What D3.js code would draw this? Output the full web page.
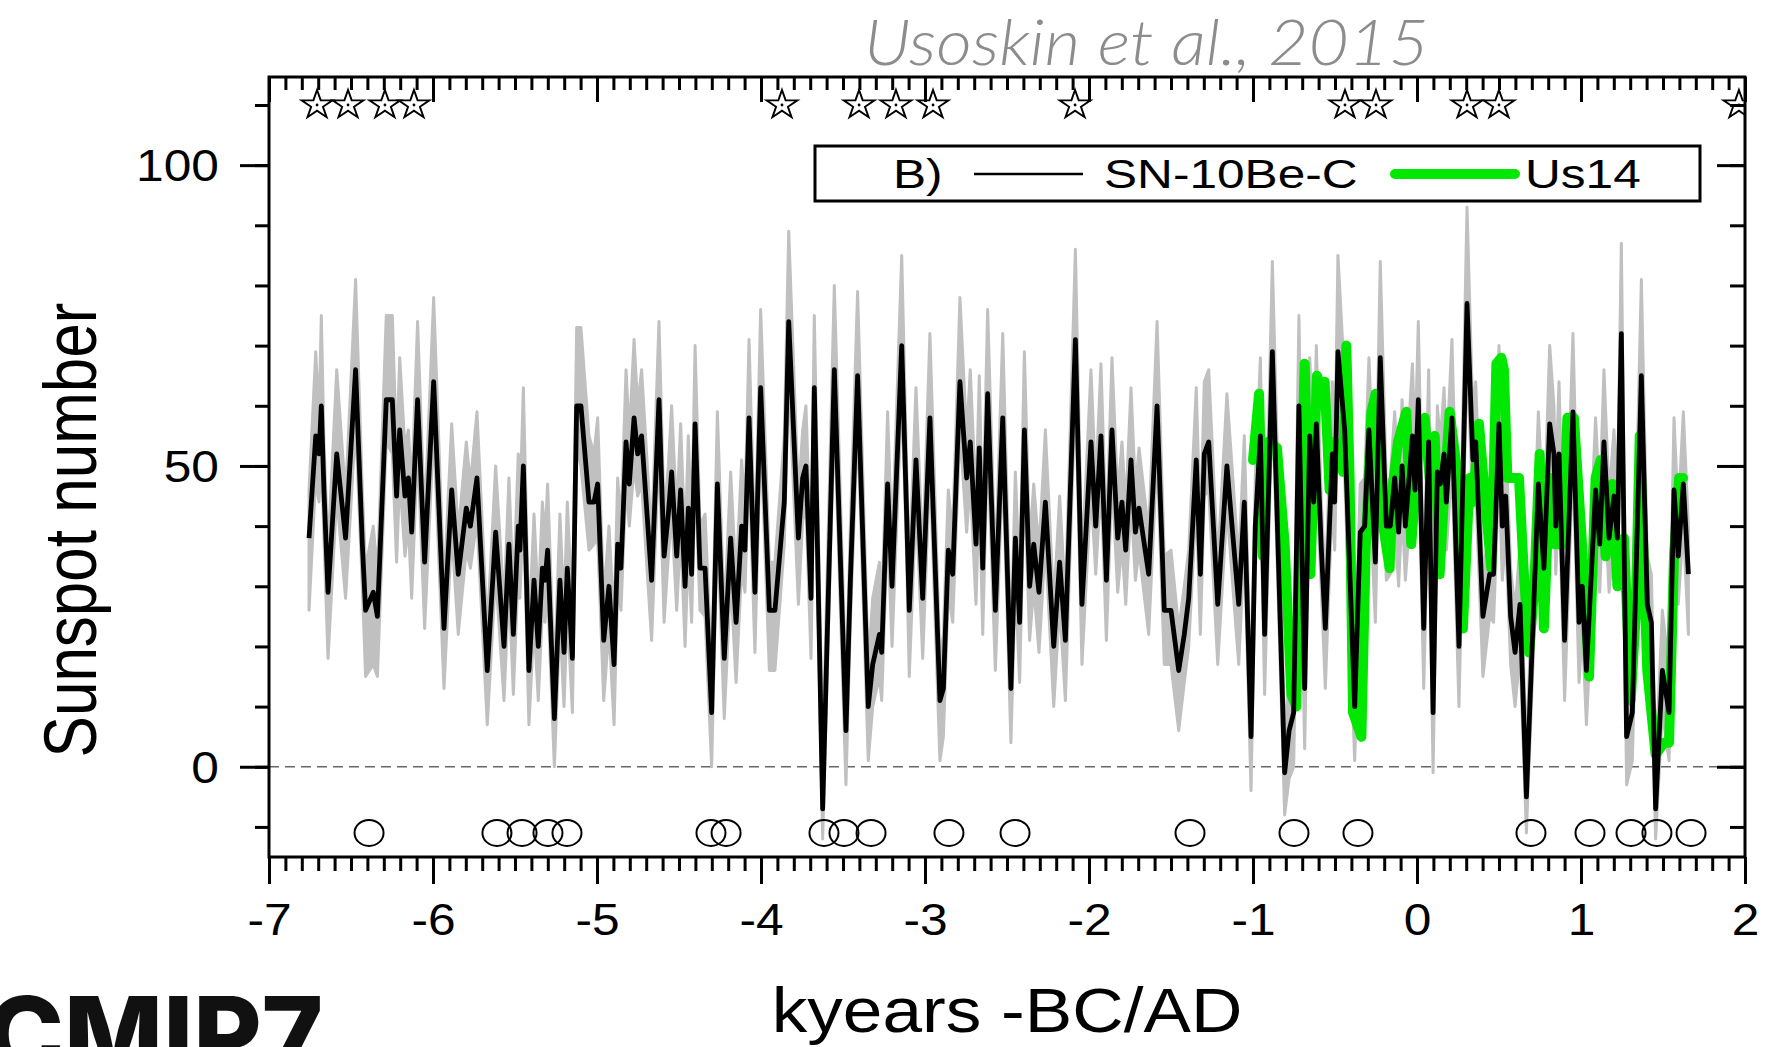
<!DOCTYPE html>
<html>
  <head>
    <meta charset="utf-8">
    <title>Sunspot number, SN-10Be-C and Us14</title>
    <script src="https://d3js.org/d3.v7.min.js"></script>
    <style>
      body { margin: 0; background: #fff; }
      svg { display: block; font-family: "Liberation Sans", Arial, sans-serif; }
    </style>
  </head>
  <body>
    <svg id="chart" width="1773" height="1047"></svg>
    <script>
      // SN-10Be-C reconstruction: kyears, sunspot number, grey band low / high
      const snYears = [-6.756,-6.715,-6.695,-6.681,-6.665,-6.640,-6.587,-6.533,-6.472,-6.431,-6.411,-6.364,-6.339,-6.285,-6.248,-6.222,-6.203,-6.171,-6.150,-6.130,-6.094,-6.051,-5.996,-5.933,-5.886,-5.846,-5.797,-5.772,-5.732,-5.669,-5.618,-5.567,-5.537,-5.510,-5.480,
        -5.470,-5.449,-5.415,-5.384,-5.358,-5.333,-5.317,-5.301,-5.260,-5.226,-5.201,-5.181,-5.150,-5.124,-5.098,-5.049,-5.018,-4.996,-4.959,-4.927,-4.896,-4.874,-4.854,-4.823,-4.803,-4.774,-4.752,-4.728,-4.667,-4.622,-4.591,-4.565,-4.545,-4.514,-4.490,-4.463,-4.443,-4.423,-4.402,-4.372,-4.341,-4.301,-4.266,-4.224,-4.185,-4.152,-4.118,-4.098,-4.073,-4.037,-4.002,
        -3.949,-3.915,-3.858,-3.831,-3.772,-3.746,-3.726,-3.695,-3.675,-3.624,-3.553,-3.482,-3.455,-3.411,-3.346,-3.319,-3.278,-3.264,-3.228,-3.201,-3.142,-3.112,-3.096,-3.055,-3.014,-2.970,-2.909,-2.888,-2.858,-2.831,-2.787,-2.746,-2.724,-2.689,-2.669,-2.648,-2.618,-2.571,-2.526,-2.476,
        -2.449,-2.423,-2.394,-2.362,-2.337,-2.305,-2.266,-2.215,-2.179,-2.144,-2.083,-2.043,-1.988,-1.959,-1.927,-1.894,-1.860,-1.825,-1.799,-1.776,-1.744,-1.717,-1.695,-1.636,-1.585,-1.541,-1.500,-1.453,-1.419,-1.392,-1.346,-1.321,-1.297,-1.270,-1.215,-1.159,-1.087,-1.053,-1.012,
        -0.986,-0.955,-0.929,-0.882,-0.807,-0.780,-0.752,-0.720,-0.685,-0.654,-0.630,-0.614,-0.583,-0.559,-0.516,-0.502,-0.482,-0.441,-0.380,-0.346,-0.319,-0.293,-0.254,-0.224,-0.187,-0.163,-0.136,-0.112,-0.091,-0.071,-0.028,-0.012,0.008,0.041,0.071,0.098,0.124,0.142,0.165,0.179,0.213,0.256,0.305,0.341,0.358,0.402,0.443,0.467,0.500,
        0.520,0.541,0.571,0.598,0.628,0.667,0.740,0.774,0.809,0.835,0.846,0.866,0.900,0.951,0.988,1.008,1.033,1.089,1.114,1.140,1.171,1.201,1.222,1.246,1.278,1.313,1.368,1.404,1.429,1.455,1.496,1.537,1.567,1.593,1.624,1.655];
      const snValues = [38,55,52,60,46,29,52,38,66,37,26,29,25,61,61,45,56,45,48,39,61,34,64,23,46,32,43,40,48,16,39,20,37,22,40,
        36,50,16,31,20,33,31,36,8,31,19,33,18,60,60,44,44,47,21,30,17,37,33,54,47,58,52,55,31,61,35,42,49,35,46,30,43,32,57,33,33,9,47,18,38,24,40,36,58,29,63,
        26,26,44,74,38,48,50,28,63,-7,66,6,31,65,10,17,22,19,47,30,70,42,26,51,28,58,11,13,36,32,64,48,54,37,53,33,62,26,58,13,
        38,24,56,30,37,29,44,20,34,21,71,27,54,40,55,31,56,38,44,36,51,39,43,32,60,26,26,16,22,28,51,32,52,54,27,50,27,44,5,
        40,55,22,69,-1,6,9,60,13,55,44,57,36,23,52,44,69,56,10,39,40,56,34,68,40,40,48,39,50,40,55,46,61,23,54,9,49,47,52,44,58,20,77,51,54,25,32,32,57,
        40,45,25,19,27,-5,47,33,57,52,40,52,21,59,24,30,16,46,37,54,38,45,38,72,5,9,65,27,24,-7,16,9,46,35,47,32];
      const snLow = [26,48,44,52,38,18,45,28,57,30,15,17,15,54,52,34,48,35,40,28,53,23,56,13,39,22,36,33,41,7,32,11,30,12,33,
        28,43,7,24,11,26,24,29,0,24,10,26,9,53,50,36,37,38,11,23,7,30,26,47,40,50,45,47,21,53,24,35,42,26,39,20,36,24,49,26,25,0,40,8,31,14,33,29,50,19,55,
        16,16,37,65,27,41,43,18,55,-12,58,-3,24,57,1,10,15,11,40,20,62,35,15,44,18,50,1,5,29,24,56,39,47,27,46,22,54,16,50,4,
        31,14,48,21,30,19,37,10,27,11,63,17,46,32,47,21,48,29,37,27,44,31,36,22,52,17,17,6,14,20,44,22,45,46,17,43,17,37,-4,
        33,47,12,61,-8,-2,0,52,3,47,36,49,29,13,45,36,61,48,1,32,33,48,24,60,31,32,41,30,43,31,47,38,53,13,47,-1,42,40,45,36,50,10,68,43,46,15,25,24,49,
        31,38,17,10,19,-11,40,24,49,45,32,45,11,51,14,23,7,39,29,47,29,38,30,64,-3,1,57,19,16,-12,9,1,39,27,40,22];
      const snHigh = [46,69,58,75,54,36,66,45,81,46,33,40,32,75,75,52,68,53,56,46,74,41,78,30,57,39,54,47,59,23,50,27,48,29,52,
        43,63,23,42,27,44,38,47,15,42,26,44,25,73,73,55,52,58,28,40,24,48,40,66,55,71,60,66,38,74,42,50,60,42,57,37,55,39,70,40,42,16,59,25,49,31,51,43,71,36,76,
        34,34,55,89,45,56,60,35,75,2,80,13,40,79,17,28,34,26,59,37,85,50,33,63,35,72,18,22,46,39,78,55,66,44,65,40,76,33,72,20,
        49,31,69,37,47,36,56,27,45,28,86,34,66,47,67,38,68,45,54,43,63,46,53,39,74,35,36,23,30,36,63,39,64,66,34,62,34,55,12,
        48,68,29,84,6,14,17,75,20,68,51,70,44,30,64,51,85,64,17,47,48,68,41,84,47,48,59,46,61,47,67,53,74,30,66,16,60,54,63,51,71,27,93,58,64,32,40,40,70,
        47,55,33,26,37,2,59,40,70,60,47,64,28,72,31,38,23,58,44,66,45,56,45,87,12,17,81,35,32,0,26,16,58,42,59,40];

      // Us14 series
      const usYears = [-1.000,-0.963,-0.939,-0.909,-0.854,-0.807,-0.766,-0.736,-0.685,-0.650,-0.610,-0.583,-0.563,-0.533,-0.502,-0.451,-0.431,-0.411,-0.390,-0.339,-0.313,-0.278,-0.252,-0.217,-0.167,-0.146,-0.116,-0.065,-0.035,0.006,0.047,0.077,0.108,0.138,0.169,0.199,0.250,0.280,0.321,0.341,0.378,0.423,0.453,0.484,0.514,0.530,0.551,0.581,0.622,0.652,0.683,0.713,0.748,0.774,0.809,0.841,0.886,0.917,0.957,1.004,1.049,1.089,1.120,1.150,1.191,1.222,1.262,1.303,1.333,1.358,1.404,1.455,1.506,1.537,1.567,1.598,1.622];
      const usValues = [51,62,35,54,53,37,12,10,67,32,65,63,64,46,54,49,70,48,9,5,36,59,62,42,33,47,54,59,37,52,58,48,55,32,47,59,48,23,48,44,57,42,33,67,68,66,48,48,48,32,19,29,52,23,48,37,37,58,58,38,15,48,51,35,47,30,38,11,25,55,16,2,4,4,35,48,48];

      // grand maxima (stars) and grand minima (circles)
      const maximaYears = [-6.707,-6.518,-6.293,-6.116,-3.872,-3.402,-3.177,-2.951,-2.085,-0.439,-0.250,0.305,0.500,1.963];
      const minimaYears = [-6.390,-5.610,-5.457,-5.299,-5.183,-4.305,-4.213,-3.616,-3.494,-3.329,-2.854,-2.451,-1.384,-0.750,-0.360,0.695,1.055,1.305,1.463,1.671];
      const maximaLevel = 110;
      const minimaLevel = -11;

      // ticks
      const xTickLabels = [-7, -6, -5, -4, -3, -2, -1, 0, 1, 2];
      const yTickLabels = [0, 50, 100];
      const xMinorTicks = d3.range(-70, 21).map(function(d) { return d / 10; });
      const yMinorTicks = d3.range(-10, 111, 10);

      const margin = { top: 77, right: 28, bottom: 190, left: 269 };
      const width = 1773, height = 1047;
      const stretch = 1.13;

      const svg = d3.select("#chart");
      const x = d3.scaleLinear().domain([-7, 2]).range([margin.left, width - margin.right]);
      const y = d3.scaleLinear().domain([-15, 114.65]).range([height - margin.bottom, margin.top]);
      const x0 = x.range()[0], x1 = x.range()[1], y0 = y.range()[0], y1 = y.range()[1];

      svg.append("defs").append("clipPath").attr("id", "plotClip")
        .append("rect").attr("x", x0).attr("y", y1).attr("width", x1 - x0).attr("height", y0 - y1);

      const plot = svg.append("g").attr("clip-path", "url(#plotClip)");

      // zero line
      plot.append("line")
        .attr("x1", x0).attr("x2", x1).attr("y1", y(0)).attr("y2", y(0))
        .attr("stroke", "#666").attr("stroke-width", 1.3).attr("stroke-dasharray", "10,6");

      // grey band
      const idx = d3.range(snYears.length);
      const band = d3.area()
        .x(function(i) { return x(snYears[i]); })
        .y0(function(i) { return y(snLow[i]); })
        .y1(function(i) { return y(snHigh[i]); });
      plot.append("path").datum(idx).attr("d", band)
        .attr("fill", "#c0c0c0").attr("stroke", "#c0c0c0").attr("stroke-width", 3)
        .attr("stroke-linejoin", "round");

      // Us14
      const usLine = d3.line()
        .x(function(i) { return x(usYears[i]); })
        .y(function(i) { return y(usValues[i]); });
      plot.append("path").datum(d3.range(usYears.length)).attr("d", usLine)
        .attr("fill", "none").attr("stroke", "#00e800").attr("stroke-width", 10)
        .attr("stroke-linejoin", "round").attr("stroke-linecap", "round");

      // SN-10Be-C
      const snLine = d3.line()
        .x(function(i) { return x(snYears[i]); })
        .y(function(i) { return y(snValues[i]); });
      plot.append("path").datum(idx).attr("d", snLine)
        .attr("fill", "none").attr("stroke", "#000").attr("stroke-width", 4.8)
        .attr("stroke-linejoin", "round");

      // markers
      const star = d3.symbol().type(d3.symbolStar).size(255);
      const stars = plot.selectAll(".star").data(maximaYears).enter().append("g")
        .attr("transform", function(d) { return "translate(" + x(d) + "," + y(maximaLevel) + ")"; });
      stars.append("path").attr("d", star).attr("transform", "scale(1.08,1)")
        .attr("fill", "#fff").attr("stroke", "#000").attr("stroke-width", 1.8);
      stars.append("circle").attr("r", 1.4).attr("fill", "#000");
      plot.selectAll(".minimum").data(minimaYears).enter().append("ellipse")
        .attr("cx", function(d) { return x(d); }).attr("cy", y(minimaLevel))
        .attr("rx", 14.5).attr("ry", 13)
        .attr("fill", "none").attr("stroke", "#000").attr("stroke-width", 2);

      // axes
      function styleAxis(g) {
        g.select(".domain").remove();
        g.selectAll(".tick line").attr("stroke", "#000").attr("stroke-width", 3);
        g.selectAll("text").attr("fill", "#000").attr("font-size", 44)
          .attr("font-family", "Liberation Sans, Arial, sans-serif");
      }
      const plainLabel = function(d) { return String(d); };
      svg.append("g").attr("transform", "translate(0," + y0 + ")")
        .call(d3.axisBottom(x).tickValues(xMinorTicks).tickSize(14).tickFormat(""))
        .call(styleAxis);
      svg.append("g").attr("transform", "translate(0," + y0 + ")")
        .call(d3.axisBottom(x).tickValues(xTickLabels).tickSize(27).tickFormat(plainLabel))
        .call(styleAxis)
        .call(function(g) {
          g.selectAll("text").attr("y", 78).attr("dy", 0)
            .attr("transform", "scale(" + stretch + ",1)");
        });
      svg.append("g").attr("transform", "translate(0," + y1 + ")")
        .call(d3.axisTop(x).tickValues(xMinorTicks).tickSize(-13).tickFormat(""))
        .call(styleAxis);
      svg.append("g").attr("transform", "translate(0," + y1 + ")")
        .call(d3.axisTop(x).tickValues(xTickLabels).tickSize(-25).tickFormat(""))
        .call(styleAxis);
      svg.append("g").attr("transform", "translate(" + x0 + ",0)")
        .call(d3.axisLeft(y).tickValues(yMinorTicks).tickSize(14).tickFormat(""))
        .call(styleAxis);
      svg.append("g").attr("transform", "translate(" + x0 + ",0)")
        .call(d3.axisLeft(y).tickValues(yTickLabels).tickSize(29).tickFormat(plainLabel))
        .call(styleAxis)
        .call(function(g) {
          g.selectAll("text").attr("x", -50 / stretch).attr("dy", "0.35em")
            .attr("transform", "scale(" + stretch + ",1)");
        });
      svg.append("g").attr("transform", "translate(" + x1 + ",0)")
        .call(d3.axisRight(y).tickValues(yMinorTicks).tickSize(-15).tickFormat(""))
        .call(styleAxis);
      svg.append("g").attr("transform", "translate(" + x1 + ",0)")
        .call(d3.axisRight(y).tickValues(yTickLabels).tickSize(-28).tickFormat(""))
        .call(styleAxis);

      // frame
      svg.append("rect").attr("x", x0).attr("y", y1).attr("width", x1 - x0).attr("height", y0 - y1)
        .attr("fill", "none").attr("stroke", "#000").attr("stroke-width", 3);

      // legend
      const legend = svg.append("g");
      legend.append("rect").attr("x", 815).attr("y", 146).attr("width", 885).attr("height", 55)
        .attr("fill", "#fff").attr("stroke", "#000").attr("stroke-width", 3);
      function legendText(tx, label) {
        legend.append("text").attr("transform", "translate(" + tx + ",188) scale(1.24,1)")
          .attr("font-size", 40).attr("fill", "#000").text(label);
      }
      legendText(893, "B)");
      legend.append("line").attr("x1", 974).attr("x2", 1083).attr("y1", 174).attr("y2", 174)
        .attr("stroke", "#000").attr("stroke-width", 2.5);
      legendText(1104, "SN-10Be-C");
      legend.append("line").attr("x1", 1395).attr("x2", 1515).attr("y1", 174).attr("y2", 174)
        .attr("stroke", "#00e800").attr("stroke-width", 10).attr("stroke-linecap", "round");
      legendText(1525, "Us14");

      // titles
      svg.append("text").attr("transform", "translate(" + ((x0 + x1) / 2) + ",1032) scale(1.13,1)")
        .attr("text-anchor", "middle").attr("font-size", 63).attr("fill", "#000")
        .text("kyears -BC/AD");
      svg.append("text").attr("transform", "translate(96,530) scale(1.2,1) rotate(-90)")
        .attr("text-anchor", "middle").attr("font-size", 62).attr("fill", "#000")
        .text("Sunspot number");
      svg.append("text").attr("x", 864).attr("y", 65)
        .attr("font-family", "Lato, 'Open Sans', sans-serif").attr("font-style", "italic")
        .attr("font-weight", 300).attr("font-size", 64).attr("fill", "#8c8c8c")
        .attr("textLength", 565).attr("lengthAdjust", "spacingAndGlyphs")
        .text("Usoskin et al., 2015");
      svg.append("text").attr("x", -14).attr("y", 1072)
        .attr("font-family", "Inter, 'Open Sans', sans-serif").attr("font-weight", 800)
        .attr("font-size", 105).attr("fill", "#111")
        .text("CMIP7");
    </script>
  </body>
</html>
